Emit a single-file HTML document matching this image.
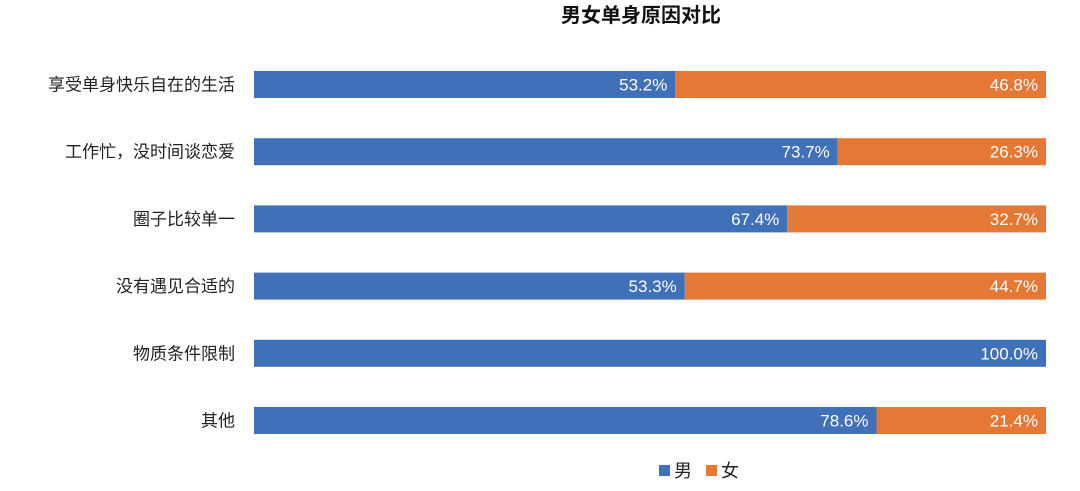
<!DOCTYPE html>
<html><head><meta charset="utf-8"><style>
body{margin:0;background:#fff;}
svg text{font-family:"Liberation Sans","Noto Sans CJK SC",sans-serif;}
</style></head><body>
<svg width="1080" height="486" xmlns="http://www.w3.org/2000/svg">
<text x="641" y="22" text-anchor="middle" font-size="20" font-weight="bold" fill="#111">男女单身原因对比</text>
<g id="plot"></g>
<g>
<rect x="659" y="465" width="11" height="11" fill="#4070b8"/>
<text x="674" y="477" font-size="18" fill="#222">男</text>
<rect x="706" y="465" width="11" height="11" fill="#e57835"/>
<text x="721" y="477" font-size="18" fill="#222">女</text>
</g>
</svg>
<script>
const categories=["享受单身快乐自在的生活","工作忙，没时间谈恋爱","圈子比较单一","没有遇见合适的","物质条件限制","其他"];
const maleValues=[53.2,73.7,67.4,53.3,100.0,78.6];
const femaleValues=[46.8,26.3,32.7,44.7,0,21.4];
const NS="http://www.w3.org/2000/svg";
const g=document.getElementById('plot');
const x0=254,x1=1046,top0=71,step=67.2,bh=27;
function xs(v,total){return (v/total)*(x1-x0);}
function mk(tag,attrs){const e=document.createElementNS(NS,tag);for(const k in attrs)e.setAttribute(k,attrs[k]);return e;}
categories.forEach((c,i)=>{
  const y=top0+i*step;
  const total=maleValues[i]+femaleValues[i];
  const t=mk('text',{x:235,y:y+bh/2+6,'text-anchor':'end','font-size':17,fill:'#222'});
  t.textContent=c;
  
  
  g.appendChild(t);
  const wm=xs(maleValues[i],total);
  const rm=mk('rect',{x:x0,y:y,width:wm,height:bh,fill:'#4070b8'});
  
  
  g.appendChild(rm);
  const lm=mk('text',{x:x0+wm-8,y:y+bh/2+6,'text-anchor':'end','font-size':17,fill:'#fff'});
  lm.textContent=maleValues[i].toFixed(1)+'%';
  
  
  g.appendChild(lm);
  if(femaleValues[i]>0){
    const wf=xs(femaleValues[i],total);
    const rf=mk('rect',{x:x0+wm,y:y,width:wf,height:bh,fill:'#e57835'});
    
    
    g.appendChild(rf);
    const lf=mk('text',{x:x0+wm+wf-8,y:y+bh/2+6,'text-anchor':'end','font-size':17,fill:'#fff'});
    lf.textContent=femaleValues[i].toFixed(1)+'%';
    
    
    g.appendChild(lf);
  }
});
</script>
</body></html>
